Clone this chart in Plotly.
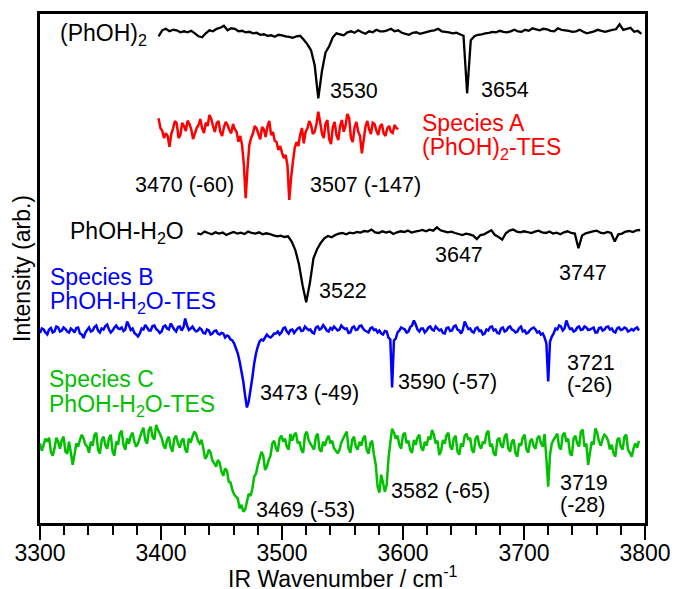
import plotly.graph_objects as go

# ---------------- data (relative intensity, arb. units) ----------------
# (PhOH)2
WN_DIMER = list(range(3398, 3800, 3))
Y_DIMER = [
    -3, 3, 4.5, 2, 3.5, 3, 1, 2, 1, 2.5,
    0, -3, -4, 0, 3, 2, 4.5, 5.5, 7.5, 3,
    5, 4.5, 2, 2.5, 1, 1.5, 0, 0.5, -1.5, -1,
    -2.5, -2, -3.5, -1.5, -2, -3, -3.5, -4.5, -3, -2.5,
    -6.5, -11, -17, -32, -65, -38, -19, -13, -4, 0,
    -1, -2, 1, 2, 0.5, 3, 1, -0.5, 2, 1,
    3.5, 2, 2, 3, 4.5, 2, 3, 0.5, -0.5, -1.5,
    0.5, 1, -0.5, 0.5, 1.5, 2.5, 3, 4.5, 2, 1.5,
    1, 0, 0.5, -1, -2.5, -60, -7, -3, -1.5, -1,
    0, 0.5, 1.5, 1, 2.5, 1.5, 1, 2, 3.5, 2,
    1.5, 3.5, 2.5, 5, 4, 3, 4.5, 4, 2.5, 2,
    5, 3.5, 3, 2.5, 1.5, 2, 3.5, 1.5, 0, 1,
    2, 3.5, 2.5, 1.5, 2.5, 3.5, 4, 9, 3.5, 4.5,
    5.5, 1.5, 2.5, -0.5,
]

# Species A, (PhOH)2-TES
WN_A = list(range(3398, 3597, 3))
Y_A = [
    11.7, -0.7, -3.3, -16.7, 1.7, 6.7, -5, 4, 9.3, 0.7,
    -3.3, 5, 1.7, 7.3, 15, 4, 6.7, -1.7, 2.7, 5,
    -3.3, 0.7, -11.7, -15, -68.3, -15, -3.3, 1.7, -9.3, 0.7,
    4, -5, -10.7, -20, -22.7, -25, -70, -32, -12, -5,
    -13.3, 1.7, 5, -1.7, 18.3, -3.3, 6.7, -9.3, 2.7, -5,
    4, -1.7, 16, -8, 2.7, -1.7, -23.3, 3.3, 0.7, 7.3,
    -0.7, 3.3, -3.3, 1.7, -1.7, 5, 0.7,
]
# readings half-way between the points above
Y_A_MID = [
    2, -8, -6, -4, 9, -8, 7, -1, 6, -9,
    2, 11, -3, 4, 11, -2, 9, -6, 8, 0,
    6, -2, -6, -35, -38, -8, 4, -4, 3, -7,
    9, -2, -12, -16, -28, -35, -48, -18, -16, 2,
    -2, 9, -4, 6, 8, -8, 10, -14, 8, -10,
    10, 4, 12, -12, 8, -6, -10, 9, -4, 6,
    -5, 6, -6, 4, -3, 2,
]

# PhOH-H2O
WN_W = list(range(3430, 3797, 3))
Y_W = [
    0, -1, 1.7, 0.3, -1, 1, -0.3, 0.7, -1.7, 0,
    1.3, -0.3, 0.7, -0.7, 1.7, 0.3, -0.3, 1, -1, 0,
    -0.7, -2, -3, -2.3, -3.7, -3, -8.3, -16.7, -31, -52,
    -69, -50, -25, -16, -9.7, -5, -2.7, -4, -1.7, -0.3,
    0.3, -1, 0.7, 0, 1.3, 0.7, 2.3, 1.7, 3.7, 1,
    0.3, 2, 0.7, 1.7, -0.7, 1, 2, 1.3, 2.7, 0.7,
    1.7, 2.3, 3.3, 2, 3.7, 2.7, 6, 3, 2, 1,
    1.7, 0.3, -0.7, -1.7, -0.3, -1, -2.3, -5.7, -1.7, -1,
    1, 3, -1.7, -3.7, -6.3, 0, 2.7, 3.7, 1.7, 1,
    2, 1.3, 0.3, 1.7, 2.7, 1, 0.3, 1.7, -0.3, 0.7,
    -1, 1, 2, 0.3, -0.3, -15, -2.3, 0, 1, 2,
    2.7, 0.7, 0, 1.3, 0.3, -8.3, -1, -0.3, 1.7, 2.3,
    1.3, 3, 3.3,
]

# Species B, PhOH-H2O-TES
WN_B = list(range(3300, 3796, 3))
Y_B = [
    -1.5, 2, -3, 3.5, 0, 4, 1, 2.5, -1, 1.5,
    3.5, -2, -6.5, 1.5, 0, 4.5, 1, 3, 5.5, 2,
    1, 6, 2.5, 0.5, 10, 1.5, -1.5, -5, 3, 6.5,
    1, 5.5, 2.5, -1.5, 5, 3, 8, 2, 4.5, 1,
    13, 1.5, 5, 0, 3.5, -1.5, 2, -3, 0.5, -2,
    -1.5, -6, -5, -9, -17, -30, -50, -76, -58, -32,
    -15, -8, -6, -5, -4.5, -2, -3, 3, 0, 1.5,
    -1.5, 3, 0.5, 5, 1.5, -1, 4, 2, 6.5, 1,
    3.5, 5, 1, 6, 2.5, -1.5, 4, 1.5, 5.5, 3,
    0, 3, 1.5, -1, -2, 0.5, -6, -56, -7, 1,
    3, -1, 4.5, 11, 2, 3, -1, 4, 2, 5,
    1, -1.5, 3.5, 0.5, 5, 2, -2, 10, 2.5, 0,
    3, 0.5, -3, 2, 4.5, 1, -1.5, 3, 0, 4,
    2, -1, 3.5, 0, -2, 1.5, 4, -1, -3, -6,
    -50, -5, 3, 6, 1, 11, 2.5, 0, 4, 1.5,
    5, 1.5, 3, -1, 3.5, 1, 4.5, 2, 0, 3,
    1.5, 4, 0, 2.5, 3, 1,
]
Y_B_MID = [
    3, -1, 2, -1, 5, 0, 4, 0, 3, -1,
    4, -3, -1, 4, 1, 6, -1, 2, 7, -1,
    4, 3, 4, 2, 6, 3, -3, -2, 2, 4,
    1, 6, 1, 0, 6, 2, 5, 0, 5, 4,
    6, 3, 2, 1, 2, -2, 1, -2, 1, -3,
    -2, -4, -8, -12, -22, -40, -64, -70, -46, -22,
    -10, -9, -3, -6, -2, 0, -1, 4, -2, 2,
    1, 4, 1, 3, 2, -2, 5, 3, 4, 0,
    2, 3, 2, 4, 3, -1, 5, 2, 6, 1,
    -1, 4, 2, 1, -3, 0, -8, -9, -1, 4,
    2, 0, 6, 7, 0, 3, 1, 5, 1, 3,
    2, -2, 4, 1, 6, 1, 2, 6, 3, -1,
    4, 1, -2, 1, 5, 2, -2, 4, 1, 5,
    1, 0, 5, 1, -1, 3, 2, 0, -2, -12,
    -10, -2, 2, 5, 3, 6, 3, 1, 5, 2,
    4, 2, 4, -1, 4, 2, 5, 3, -1, 4,
    2, 3, 1, 1, 4,
]

# Species C, PhOH-H2O-TES
WN_C = list(range(3300, 3796, 3))
Y_C = [
    3.3, 1.7, 5, -5, -1.7, 5, 6.7, -5, 5, -18,
    3.3, 6.7, 8.3, 0, 5, 11.7, -3.3, 6.7, 1.7, 8.3,
    -5, 5, 13.3, 1.7, 8.3, 10.7, 5, 3.3, 15, 6.7,
    16.7, 10, 21.7, 13.3, 1.7, 6.7, -0.7, 8.3, 3.3, 6,
    -2.7, 8.3, 10, 12.7, 3.3, -1.7, -9.3, -6, -16.7, -13.3,
    -25, -21.7, -35, -43.3, -50, -61.7, -65, -55, -49.3, -30,
    -18.3, -5, -23.3, -13.3, 3.3, -1.7, 8.3, 5, 0, 12.7,
    11.7, 3.3, -3.3, 11.7, 6.7, 0, 10, -2.7, 5, 7.3,
    3.3, -1.7, -6.7, 4, 11.7, -1.7, 6.7, 0, 5, 8.3,
    -3.3, 3.3, -8, -40, -28, -45, -12, 18, 8, 1.7,
    11.7, 3.3, -3.3, 6.7, 9.3, -0.7, 5, 10, 16.7, 3.3,
    -8.3, 6.7, 11.7, 0, 8.3, -5, 3.3, 10.7, 6.7, -3.3,
    8.3, 1.7, 5, 13.3, 0, -6.7, 6.7, 1.7, 10, -1.7,
    5, -6.7, 3.3, 9.3, -2.7, 5, 0.7, 8.3, 3.3, 12.7,
    -40, 3.3, 10, 0, 11.7, 5, -6.7, 8.3, 3.3, 15,
    0, -18.3, 5, 18.3, 5, 8.3, 10, -2.7, -6.7, 6.7,
    0, 10, -3.3, -10, 3.3, 6,
]
Y_C_MID = [
    -4, 8, 9, -9, 9, -2, 10, -7, -6, -8,
    0, 12, 2, -6, 1, 14, -7, 10, -2, 12,
    -9, 2, 16, -3, 3, 14, 0, 9, 19, 3,
    20, 7, 17, 9, -2, 10, -5, 11, -1, 8,
    -6, 4, 15, 6, 7, -12, -3, -14, -20, -16,
    -29, -24, -36, -48, -52, -58, -63, -47, -42, -27,
    -12, -9, -20, -9, 6, -5, 11, 8, -3, 6,
    14, 5, -6, 15, 3, -3, 13, -5, 1, 11,
    6, -4, -3, 8, 15, -6, 10, -3, 1, 11,
    -7, 6, -18, -46, -36, -38, 4, 14, 11, -2,
    14, 6, -6, 2, 12, -4, 1, 7, 12, 6,
    -4, 3, 14, -3, 11, -8, 0, 13, 9, -6,
    11, -2, 3, 16, 3, -9, 9, -1, 13, -5,
    7, -10, 1, 12, -6, 8, -2, 11, 0, -12,
    -8, 7, 13, -3, 14, 8, -9, 11, 0, 17,
    3, -6, 2, 14, 1, 12, 6, 2, -10, 9,
    -3, 12, -6, -2, -1,
]

X_TICKS = [3300, 3400, 3500, 3600, 3700, 3800]

# ---------------- styling / stacking ----------------
FONT = "Liberation Sans, Arial, sans-serif"
GREEN = "#00c000"
MID_STEP = 1.5  # half of the 3 cm-1 reading step


def merged(wn, main, mid):
    xs, ys = [], []
    for i, (w, v) in enumerate(zip(wn, main)):
        xs.append(w)
        ys.append(v)
        if mid is not None and i < len(mid):
            xs.append(w + MID_STEP)
            ys.append(mid[i])
    return xs, ys


series = [
    (WN_DIMER, Y_DIMER, None, 489.7, "black", 2.3),
    (WN_A, Y_A, Y_A_MID, 393.0, "#ff0000", 2.5),
    (WN_W, Y_W, None, 289.7, "black", 2.3),
    (WN_B, Y_B, Y_B_MID, 191.5, "#0000ff", 2.5),
    (WN_C, Y_C, Y_C_MID, 76.3, GREEN, 2.5),
]

fig = go.Figure()
for wn, main, mid, off, color, w in series:
    assert len(wn) == len(main), (len(wn), len(main))
    if mid is not None:
        assert len(mid) == len(main) - 1, (len(mid), len(main))
    xs, ys = merged(wn, main, mid)
    fig.add_trace(go.Scatter(
        x=xs, y=[v + off for v in ys], mode="lines",
        line=dict(color=color, width=w, simplify=False),
        hoverinfo="skip", showlegend=False,
    ))

NUM = 21.5
LAB = 23
ann = [
    # text, x, y, color, size, xanchor
    ("(PhOH)<sub>2</sub>", 3314.9, 488.5, "black", LAB, "left"),
    ("3530", 3559.1, 432.5, "black", NUM, "center"),
    ("3654", 3684.3, 433, "black", NUM, "center"),
    ("Species A", 3614.0, 400, "#ff0000", LAB, "left"),
    ("(PhOH)<sub>2</sub>-TES", 3614.0, 375, "#ff0000", LAB, "left"),
    ("3470 (-60)", 3419.8, 338.5, "black", NUM, "center"),
    ("3507 (-147)", 3568.6, 338, "black", NUM, "center"),
    ("PhOH-H<sub>2</sub>O", 3323.1, 291, "black", LAB, "left"),
    ("3522", 3550.0, 232.5, "black", NUM, "center"),
    ("3647", 3646.3, 268, "black", NUM, "center"),
    ("3747", 3748.8, 250.5, "black", NUM, "center"),
    ("Species B", 3306.6, 246, "#0000ff", LAB, "left"),
    ("PhOH-H<sub>2</sub>O-TES", 3306.6, 221, "#0000ff", LAB, "left"),
    ("3473 (-49)", 3522.7, 130, "black", NUM, "center"),
    ("3590 (-57)", 3636.8, 141, "black", NUM, "center"),
    ("3721", 3733.9, 160.5, "black", NUM, "left"),
    ("(-26)", 3733.9, 138, "black", NUM, "left"),
    ("Species C", 3305.8, 144, GREEN, LAB, "left"),
    ("PhOH-H<sub>2</sub>O-TES", 3305.8, 117.5, GREEN, LAB, "left"),
    ("3469 (-53)", 3519.4, 13.5, "black", NUM, "center"),
    ("3582 (-65)", 3630.6, 32.5, "black", NUM, "center"),
    ("3719", 3728.1, 40.5, "black", NUM, "left"),
    ("(-28)", 3728.1, 18.5, "black", NUM, "left"),
]
annotations = [
    dict(text=t, x=x, y=y, xref="x", yref="y", showarrow=False,
         xanchor=xa, yanchor="middle", font=dict(family=FONT, size=s, color=c))
    for t, x, y, c, s, xa in ann
]
# x-axis title, placed below the tick labels
annotations.append(dict(
    text="IR Wavenumber / cm<sup>-1</sup>", x=0.5, y=0, xref="paper",
    yref="paper", yshift=-54, showarrow=False, xanchor="center",
    yanchor="middle", font=dict(family=FONT, size=23, color="black"),
))

fig.update_layout(
    width=675, height=589,
    margin=dict(l=40, r=30, t=14, b=66, autoexpand=False),
    paper_bgcolor="white", plot_bgcolor="white",
    font=dict(family=FONT, color="black"),
    annotations=annotations,
    xaxis=dict(
        range=[3300, 3800], tickmode="array", tickvals=X_TICKS,
        ticktext=[str(v) for v in X_TICKS],
        ticks="outside", ticklen=14, tickwidth=2, tickcolor="black",
        ticklabelstandoff=-6,
        minor=dict(dtick=20, tick0=3300, ticks="outside", ticklen=9,
                   tickwidth=2, tickcolor="black", showgrid=False),
        showline=True, linewidth=2.5, linecolor="black", mirror=True,
        showgrid=False, zeroline=False, automargin=False,
        tickfont=dict(family=FONT, size=23, color="black"),
    ),
    yaxis=dict(
        range=[0, 509], showticklabels=False, ticks="",
        showline=True, linewidth=2.5, linecolor="black", mirror=True,
        showgrid=False, zeroline=False, automargin=False,
        title=dict(text="Intensity (arb.)",
                   font=dict(family=FONT, size=23, color="black"), standoff=1),
    ),
)

fig.write_html("out.html")
